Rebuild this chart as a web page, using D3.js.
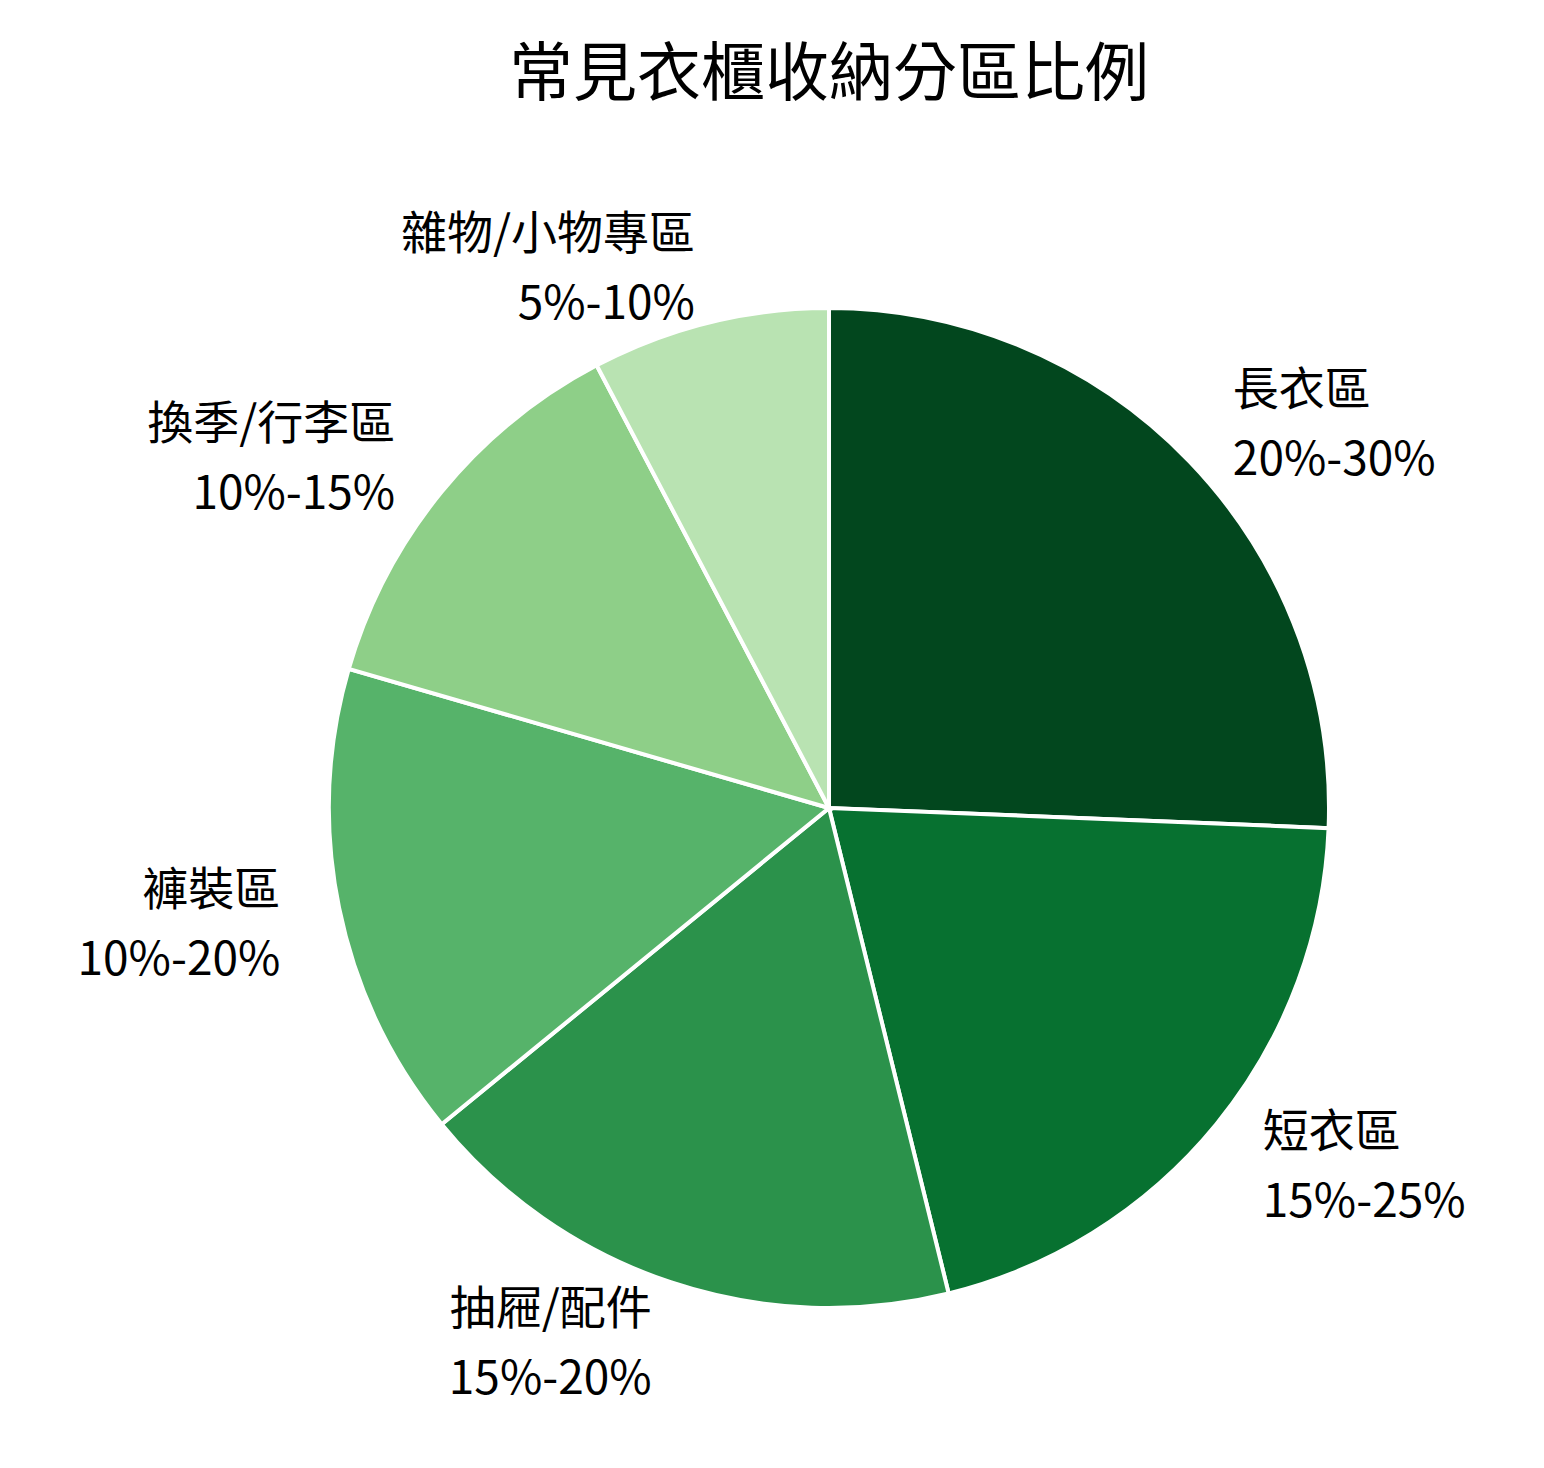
<!DOCTYPE html>
<html><head><meta charset="utf-8">
<script src="https://cdn.jsdelivr.net/npm/d3@7"></script>
<style>body{margin:0;background:#fff}text{font-family:"Noto Sans CJK TC","Noto Sans",sans-serif}</style>
</head><body><svg id="c" width="1544" height="1468"></svg>
<script>
const categories=["長衣區","短衣區","抽屜/配件","褲裝區","換季/行李區","雜物/小物專區"];
const ranges=["20%-30%","15%-25%","15%-20%","10%-20%","10%-15%","5%-10%"];
const values=[25,20,17.5,15,12.5,7.5];
const colors=["#02471e","#077130","#2b924b","#56b36a","#8ecf88","#b9e3b2"];
const svg=d3.select("#c");
const cx=829,cy=808,R=500;
svg.append("text").attr("x",cx).attr("y",95).attr("text-anchor","middle").attr("font-size",64).text("常見衣櫃收納分區比例");
const data=categories.map((c,i)=>({c,r:ranges[i],v:values[i],col:colors[i]}));
const pie=d3.pie().value(d=>d.v).sort(null);
const arc=d3.arc().innerRadius(0).outerRadius(R);
const g=svg.append("g").attr("transform",`translate(${cx},${cy})`);
const arcs=pie(data);
g.selectAll("path").data(arcs).join("path").attr("d",arc).attr("fill",d=>d.data.col).attr("stroke","#fff").attr("stroke-width",4);
const lr=R*1.12;
arcs.forEach(a=>{
  const m=(a.startAngle+a.endAngle)/2;
  const x=lr*Math.sin(m),y=-lr*Math.cos(m);
  const anchor=Math.sin(m)>=0?"start":"end";
  const t=g.append("text").attr("text-anchor",anchor).attr("font-size",46).attr("dominant-baseline","central");
  t.append("tspan").attr("x",x).attr("y",y-35).text(a.data.c);
  t.append("tspan").attr("x",x).attr("y",y+35).text(a.data.r);
});
</script></body></html>
